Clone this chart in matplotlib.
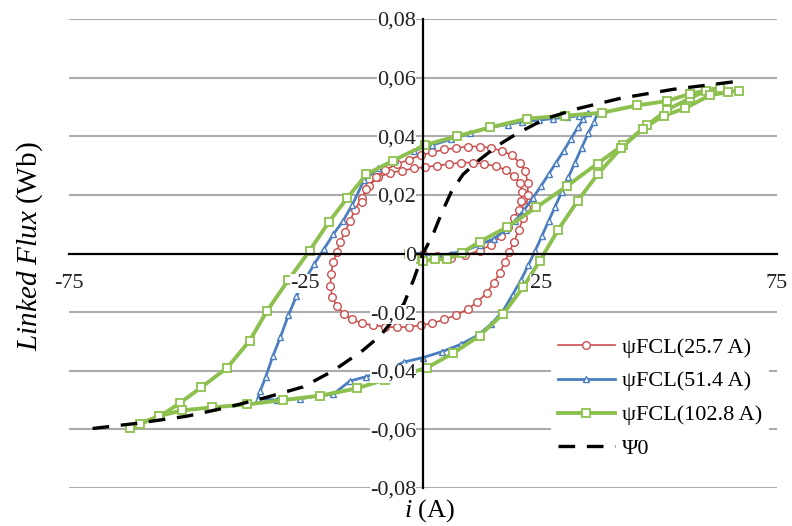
import matplotlib
matplotlib.use("Agg")
import matplotlib.pyplot as plt
from matplotlib.ticker import FuncFormatter

plt.rcParams['font.family'] = ['Liberation Serif', 'DejaVu Serif']
plt.rcParams['mathtext.fontset'] = 'custom'
plt.rcParams['mathtext.rm'] = 'Liberation Serif'
plt.rcParams['mathtext.it'] = 'Liberation Serif:italic'

# psiFCL at 25.7 A
red_i = [-3, 0, 3, 6, 9, 12, 14.5, 16.5, 18, 19.3, 20.3, 20.8, 21, 20.5, 19.3, 17.5,
         15.5, 13, 10.5, 8, 5.5, 3, 0.5, -2, -4.5, -7, -9.5, -11.5, -13, -14.4,
         -15.5, -16.5, -17.5, -18.3, -19, -19.5, -19.6, -19.2, -18.2, -16.8, -15,
         -13, -10.5, -8, -5.5, -3, -0.5, 2, 4.5, 7, 9.5, 11.5, 13.5, 15, 16.3,
         17.3, 18.3, 19.3, 20.3, 21.2, 21.9, 22.2, 22.2, 21.7, 20.5, 18.8, 16.8,
         14.5, 12, 9.5, 7, 4.5, 2, -0.5, -3, -5.5, -8, -10, -12, -13]
red_psi = [0.0005, 0, -0.001, -0.0014, -0.0005, 0.001, 0.003, 0.006, 0.009, 0.012,
           0.015, 0.018, 0.021, 0.024, 0.0265, 0.0285, 0.0298, 0.0305, 0.031, 0.031,
           0.0305, 0.030, 0.0295, 0.029, 0.0283, 0.0275, 0.026, 0.023, 0.019, 0.015,
           0.011, 0.0075, 0.004, 0.0005, -0.003, -0.007, -0.011, -0.015, -0.018,
           -0.0205, -0.0225, -0.0238, -0.0245, -0.025, -0.0252, -0.025, -0.0245,
           -0.0238, -0.0225, -0.021, -0.019, -0.0165, -0.0135, -0.010, -0.0065,
           -0.003, 0.0005, 0.004, 0.008, 0.012, 0.016, 0.020, 0.024, 0.028, 0.031,
           0.0335, 0.035, 0.036, 0.0365, 0.0365, 0.036, 0.0355, 0.0345, 0.0335,
           0.032, 0.0305, 0.0285, 0.026, 0.022, 0.0175]

# psiFCL at 51.4 A
blue_i = [-2, 0, 3, 6, 9, 12, 15, 17.5, 19.5, 21.5, 23.3, 25, 26.6, 28.2, 29.8, 31.3,
          32.8, 34, 35, 33, 30.5, 27.5, 24.5, 21, 18, 14, 10, 6, 2, -2, -6, -9.5,
          -12.5, -15, -17, -19, -21, -23, -25, -26.8, -28.5, -30.2, -31.8, -33.3,
          -34.5, -35, -31, -26, -22, -19, -15.5, -12, -8, -4, 0, 4, 8, 11.5, 14.5,
          17, 19, 20.8, 22.3, 23.8, 25.2, 26.6, 28, 29.4, 30.8, 32.2, 33.6, 35,
          36.3, 37]
blue_psi = [0, 0, -0.001, 0, 0.001, 0.003, 0.005, 0.008, 0.011, 0.015, 0.019, 0.023,
            0.027, 0.031, 0.035, 0.039, 0.043, 0.046, 0.048, 0.047, 0.0465, 0.046,
            0.0455, 0.045, 0.044, 0.043, 0.041, 0.039, 0.037, 0.035, 0.032, 0.029,
            0.025, 0.0165, 0.011, 0.0065, 0.0015, -0.0035, -0.009, -0.0145, -0.021,
            -0.0285, -0.035, -0.042, -0.047, -0.0495, -0.050, -0.0495, -0.0485,
            -0.048, -0.0435, -0.042, -0.040, -0.037, -0.0355, -0.0335, -0.031,
            -0.028, -0.024, -0.0195, -0.014, -0.009, -0.004, 0.001, 0.006, 0.011,
            0.016, 0.021, 0.026, 0.031, 0.036, 0.041, 0.045, 0.048]

# psiFCL at 102.8 A
green_i = [-3, -2, 0, 2.5, 5, 8.3, 12, 17.8, 24, 30.5, 37, 42.4, 47.5, 51.7, 56.6, 60,
           63, 56.6, 51.7, 45.3, 37.9, 30, 22, 14.2, 7.2, 0.4, -6.3, -12, -16, -20,
           -24, -28.5, -33, -36.7, -41.5, -47, -51.5, -55.7, -60, -62, -56, -51,
           -44.7, -37.3, -29.7, -21.8, -14, -8, -3.4, 0.8, 6.4, 12, 17, 21.2, 24.8,
           28.6, 32.8, 37, 42, 46.6, 51, 55.5, 60.8, 64.6, 67]
green_psi = [0.0, -0.002, -0.0025, -0.002, -0.002, 0.0003, 0.004, 0.009, 0.0157,
             0.023, 0.0307, 0.037, 0.0437, 0.049, 0.053, 0.0555, 0.0565, 0.0545,
             0.052, 0.0505, 0.048, 0.047, 0.046, 0.043, 0.040, 0.037, 0.0317, 0.027,
             0.019, 0.0106, 0.001, -0.009, -0.0195, -0.0297, -0.039, -0.0457,
             -0.051, -0.0555, -0.058, -0.0595, -0.0555, -0.0535, -0.0525, -0.0515,
             -0.050, -0.0485, -0.046, -0.043, -0.041, -0.039, -0.034, -0.028,
             -0.0206, -0.0115, -0.0024, 0.008, 0.018, 0.027, 0.036, 0.0426, 0.047,
             0.0495, 0.054, 0.055, 0.0556]

# Psi0 reference curve
psi0_i = [-70, -61, -50, -41.5, -33, -25.4, -19, -12.7, -9, -6.5, -4, -2, 0, 2, 4, 6,
          8.5, 12, 16, 20, 26, 33, 42, 53, 68]
psi0 = [-0.0597, -0.058, -0.0555, -0.0525, -0.049, -0.0455, -0.040, -0.033, -0.028,
        -0.023, -0.017, -0.009, 0, 0.006, 0.014, 0.021, 0.027, 0.032, 0.037, 0.041,
        0.046, 0.0495, 0.053, 0.056, 0.059]

labels = ['ψFCL(25.7 A)', 'ψFCL(51.4 A)', 'ψFCL(102.8 A)', 'Ψ0']
red = '#C9504E'
blue = '#4A7EC0'
green = '#8DC04E'

fig = plt.figure(figsize=(7.92, 5.26), dpi=100)
ax = fig.add_axes([0.0871, 0.0722, 0.8939, 0.8917])

for yv in [-0.08, -0.06, -0.04, -0.02, 0.02, 0.04, 0.06, 0.08]:
    ax.axhline(yv, color='#ABABAB', lw=1.5, zorder=0.5)

ax.plot(red_i, red_psi, color=red, lw=1.2, marker='o', ms=5.5, mfc='white',
        mec=red, mew=1.0, label=labels[0], zorder=2)
ax.plot(blue_i, blue_psi, color=blue, lw=2.0, marker='^', ms=5, mfc='white',
        mec=blue, mew=1.0, label=labels[1], zorder=2.1)
ax.plot(green_i, green_psi, color=green, lw=2.8, marker='s', ms=5.5, mfc='white',
        mec=green, mew=1.3, label=labels[2], zorder=2.2)
ax.plot(psi0_i, psi0, color='black', lw=2.4, dashes=(5, 3.5), label=labels[3],
        zorder=2.3)

ax.set_xlim(-75, 75)
ax.set_ylim(-0.08, 0.08)
ax.set_xticks([-75, -25, 25, 75])
ax.set_yticks([-0.08, -0.06, -0.04, -0.02, 0, 0.02, 0.04, 0.06, 0.08])
ax.yaxis.set_major_formatter(FuncFormatter(
    lambda v, p: '0' if abs(v) < 1e-9 else f'{v:.2f}'.replace('.', ',')))
ax.xaxis.set_major_formatter(FuncFormatter(lambda v, p: f'{v:.0f}'))

ax.set_axisbelow(False)
for s in ['top', 'right']:
    ax.spines[s].set_visible(False)
ax.spines['left'].set_position(('data', 0))
ax.spines['bottom'].set_position(('data', 0))
for s in ['left', 'bottom']:
    ax.spines[s].set_linewidth(1.6)
    ax.spines[s].set_color('black')
ax.tick_params(axis='both', length=0, labelsize=16, colors='#222222')
ax.tick_params(axis='x', pad=15)
ax.tick_params(axis='y', pad=5)
for lbl in ax.get_xticklabels() + ax.get_yticklabels():
    lbl.set_bbox(dict(facecolor='white', edgecolor='none', pad=0))

fig.text(0.038, 0.532, r'$\mathit{Linked\ Flux}$ (Wb)', rotation=90, fontsize=21,
         ha='center', va='center')
fig.text(0.543, 0.003, r'$\mathit{i}$ (A)', fontsize=19, ha='center', va='bottom')

leg = ax.legend(loc='upper left', bbox_to_anchor=(0.665, 0.36), fontsize=16,
                frameon=True, facecolor='white', edgecolor='none', framealpha=1,
                handlelength=2.6, handletextpad=0.3, labelspacing=0.6,
                borderpad=0.3, numpoints=1)
leg.set_zorder(5)

fig.savefig('out.png', dpi=100)
